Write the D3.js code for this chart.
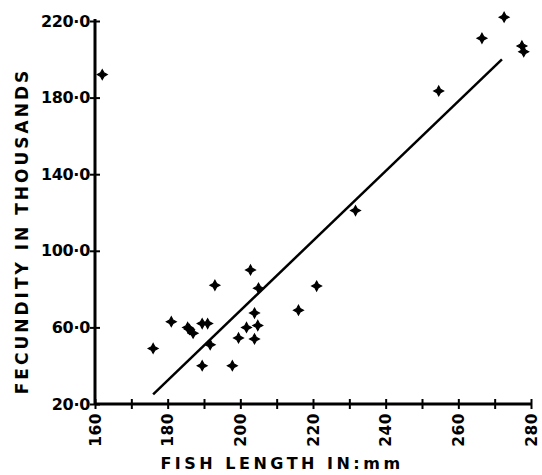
<!DOCTYPE html>
<html>
<head>
<meta charset="utf-8">
<script src="https://cdn.jsdelivr.net/npm/d3@7"></script>
<style>
  body { margin: 0; background: #fff; }
  svg { display: block; }
  text { font-family: "DejaVu Sans", sans-serif; font-weight: bold; fill: #000; }
</style>
</head>
<body>
<div class="chart"></div>
<script>
// fish length (mm) vs fecundity (thousands)
var lengths   = [162, 176, 181, 185.5, 186, 187, 189.5, 191, 189.5, 191.7, 193, 197.8, 199.5, 201.7, 202.8, 203.9, 204.8, 203.9, 205, 216, 221, 231.7, 254.6, 266.5, 272.6, 277.5, 278];
var fecundity = [192, 49, 63, 60, 59, 57, 62, 62, 40, 51, 82, 40, 54.5, 60, 90, 67.5, 61, 54, 80.5, 69, 81.6, 121, 183.5, 211, 222, 207, 204];

// regression line end points
var fitX = [176, 272];
var fitY = [25, 200];

var xTicks = [160, 170, 180, 190, 200, 210, 220, 230, 240, 250, 260, 270, 280];
var xLabels = [160, 180, 200, 220, 240, 260, 280];
var yTicks = [20, 60, 100, 140, 180, 220];

var w = 542, h = 475;

var svg = d3.select('.chart').append('svg')
	.attr('width', w)
	.attr('height', h);

var x = d3.scaleLinear().domain([160, 280]).range([95, 531]);
var y = d3.scaleLinear().domain([20, 220]).range([404, 21]);

/*---------------------------X AXIS--------------------------*/

var xAxis = svg.append('g')
	.attr('transform', 'translate(0,' + y(20) + ')')
	.call(d3.axisBottom(x).tickValues(xTicks).tickSize(5).tickFormat(''));

xAxis.select('.domain').attr('d', 'M' + x(160) + ',0H' + x(280)).attr('stroke-width', 3);
xAxis.selectAll('.tick line').attr('y1', -5).attr('stroke-width', 2);

xAxis.selectAll('.xlab').data(xLabels).enter()
	.append('text')
	.attr('class', 'xlab')
	.attr('transform', function(d){ return 'translate(' + (x(d) + 5.5) + ',9) rotate(-90)'; })
	.attr('text-anchor', 'end')
	.style('font-size', '15.5px')
	.attr('letter-spacing', '0.5')
	.text(function(d){ return d; });

/*---------------------------Y AXIS--------------------------*/

var yAxis = svg.append('g')
	.attr('transform', 'translate(' + x(160) + ',0)')
	.call(d3.axisLeft(y).tickValues(yTicks).tickSize(5).tickFormat(function(d){ return d + '\u00b70'; }));

yAxis.select('.domain').attr('d', 'M0,' + y(20) + 'V' + (y(220) - 2)).attr('stroke-width', 3);
yAxis.selectAll('.tick line').attr('x2', 5).attr('x1', -5).attr('stroke-width', 2);
yAxis.selectAll('.tick text')
	.attr('x', -5)
	.style('font-size', '16px')
	.style('font-family', '"DejaVu Sans", sans-serif')
	.style('font-weight', 'bold')
	.attr('letter-spacing', '-0.3');
svg.selectAll('.domain, .tick line').attr('stroke', '#000');

/*---------------------------TITLES--------------------------*/

svg.append('text')
	.attr('x', 282)
	.attr('y', 469)
	.attr('text-anchor', 'middle')
	.style('font-size', '16px')
	.attr('letter-spacing', '3.5')
	.text('FISH LENGTH IN:mm');

svg.append('text')
	.attr('transform', 'translate(28,231) rotate(-90)')
	.attr('text-anchor', 'middle')
	.style('font-size', '17px')
	.attr('letter-spacing', '3')
	.text('FECUNDITY IN THOUSANDS');

/*---------------------------FIT LINE & POINTS--------------------------*/

svg.append('line')
	.attr('x1', x(fitX[0]))
	.attr('y1', y(fitY[0]))
	.attr('x2', x(fitX[1]))
	.attr('y2', y(fitY[1]))
	.attr('stroke', '#000')
	.attr('stroke-width', 2.5);

// four pointed star
var star4 = {
	draw: function(context, size){
		var r = Math.sqrt(size), ri = r * 0.5;
		for (var i = 0; i < 8; i++){
			var a = i * Math.PI / 4 - Math.PI / 2;
			var rr = i % 2 ? ri : r;
			if (i === 0) context.moveTo(rr * Math.cos(a), rr * Math.sin(a));
			else context.lineTo(rr * Math.cos(a), rr * Math.sin(a));
		}
		context.closePath();
	}
};

svg.selectAll('.pt').data(lengths).enter()
	.append('path')
	.attr('class', 'pt')
	.attr('transform', function(d, i){ return 'translate(' + x(d) + ',' + y(fecundity[i]) + ')'; })
	.attr('d', d3.symbol().type(star4).size(24))
	.attr('fill', '#000')
	.attr('stroke', '#000')
	.attr('stroke-width', 1.2);
</script>
</body>
</html>
